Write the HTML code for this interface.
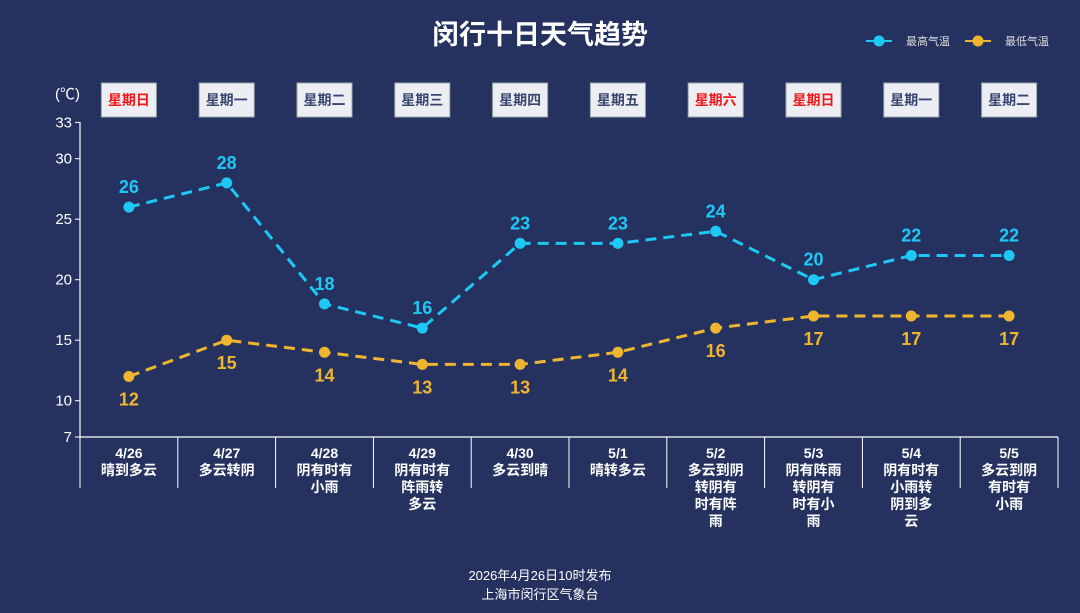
<!DOCTYPE html>
<html><head><meta charset="utf-8"><style>
html,body{margin:0;padding:0;background:#253260;}
svg{display:block;font-family:"Liberation Sans","Noto Sans CJK SC",sans-serif;}
</style></head><body>
<svg width="1080" height="613" xmlns="http://www.w3.org/2000/svg">
<rect width="1080" height="613" fill="#253260"/>
<text x="540" y="44" text-anchor="middle" fill="#fff" font-size="27" font-weight="bold">闵行十日天气趋势</text>
<line x1="866" y1="41" x2="892" y2="41" stroke="#1ec8f5" stroke-width="2"/><circle cx="879" cy="41" r="5.5" fill="#1ec8f5"/>
<text x="906" y="45" fill="#ddd" font-size="11">最高气温</text>
<line x1="965" y1="41" x2="991" y2="41" stroke="#f0b52f" stroke-width="2"/><circle cx="978" cy="41" r="5.5" fill="#f0b52f"/>
<text x="1005" y="45" fill="#ddd" font-size="11">最低气温</text>
<text x="55" y="99" fill="#fff" font-size="15">(℃)</text>
<g id="boxes" font-size="14" font-weight="bold" text-anchor="middle"></g>
<g stroke="#fff" stroke-width="1.2">
<line x1="80" y1="122" x2="80" y2="437"/><line x1="80" y1="437" x2="1058" y2="437"/>
</g>
<g id="yt" fill="#fff" font-size="15" text-anchor="end"></g>
<g id="xt"></g>
<g id="series"></g>
<text x="540" y="580" text-anchor="middle" fill="#fff" font-size="13">2026年4月26日10时发布</text>
<text x="540" y="599" text-anchor="middle" fill="#fff" font-size="13">上海市闵行区气象台</text>
</svg>
<script>
var NS="http://www.w3.org/2000/svg";
function el(p,t,a,txt){var e=document.createElementNS(NS,t);for(var k in a)e.setAttribute(k,a[k]);if(txt!=null)e.textContent=txt;document.getElementById(p).appendChild(e);return e;}
var cx=[],w=97.8;for(var i=0;i<10;i++)cx.push(80+w*(i+0.5));
var wk=["星期日","星期一","星期二","星期三","星期四","星期五","星期六","星期日","星期一","星期二"];
var red=[1,0,0,0,0,0,1,1,0,0];
wk.forEach(function(s,i){el("boxes","rect",{x:cx[i]-27.5,y:83,width:55,height:34,fill:"#eceef3",stroke:"#9aa", "stroke-width":1});
el("boxes","text",{x:cx[i],y:105,fill:red[i]?"#f01818":"#3a4670"},s);});
function Y(v){return 437-(v-7)*12.1;}
[7,10,15,20,25,30,33].forEach(function(v){el("yt","line",{x1:75,y1:Y(v),x2:80,y2:Y(v),stroke:"#fff"});el("yt","text",{x:72,y:Y(v)+5},v);});
for(var i=0;i<=10;i++){var x=80+w*i;el("xt","line",{x1:x,y1:437,x2:x,y2:488,stroke:"#fff","stroke-width":1});}
var lab=[["4/26","晴到多云"],["4/27","多云转阴"],["4/28","阴有时有","小雨"],["4/29","阴有时有","阵雨转","多云"],["4/30","多云到晴"],["5/1","晴转多云"],["5/2","多云到阴","转阴有","时有阵","雨"],["5/3","阴有阵雨","转阴有","时有小","雨"],["5/4","阴有时有","小雨转","阴到多","云"],["5/5","多云到阴","有时有","小雨"]];
lab.forEach(function(a,i){a.forEach(function(s,j){el("xt","text",{x:cx[i],y:458+j*17,fill:"#fff","font-size":14,"font-weight":"bold","text-anchor":"middle"},s);});});
function ser(d,c,off){var p=d.map(function(v,i){return cx[i]+","+Y(v)}).join(" ");
el("series","polyline",{points:p,fill:"none",stroke:c,"stroke-width":3,"stroke-dasharray":"11,7"});
d.forEach(function(v,i){el("series","circle",{cx:cx[i],cy:Y(v),r:5.5,fill:c});
el("series","text",{x:cx[i],y:Y(v)+off,fill:c,"font-size":18,"font-weight":"bold","text-anchor":"middle"},v);});}
ser([26,28,18,16,23,23,24,20,22,22],"#1ec8f5",-14);
ser([12,15,14,13,13,14,16,17,17,17],"#f0b52f",29);
</script>
</body></html>
